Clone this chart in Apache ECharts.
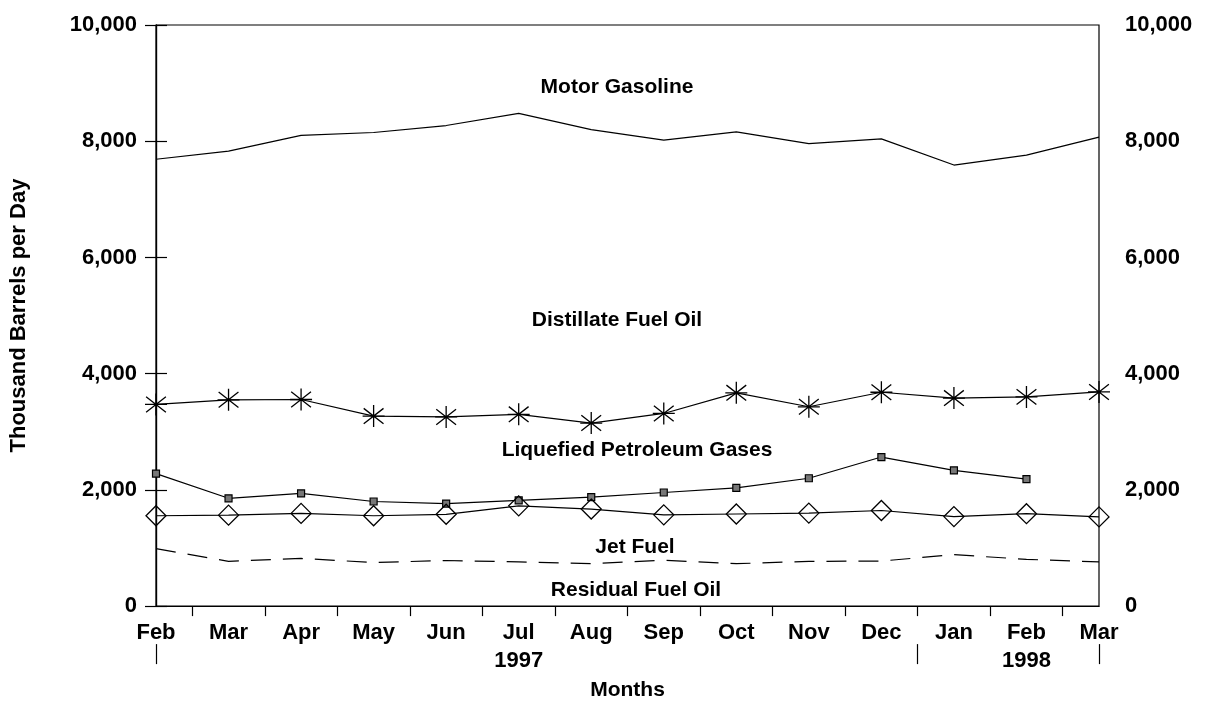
<!DOCTYPE html>
<html>
<head>
<meta charset="utf-8">
<script src="https://cdn.jsdelivr.net/npm/echarts@6/dist/echarts.min.js"></script>
<style>
html, body { margin: 0; padding: 0; background: #fff; }
#chart { width: 1212px; height: 706px; }
</style>
</head>
<body>
<div id="chart"></div>
<script>
// months Feb 1997 .. Mar 1998
const months = ['Feb', 'Mar', 'Apr', 'May', 'Jun', 'Jul\n1997', 'Aug', 'Sep', 'Oct', 'Nov', 'Dec', 'Jan', 'Feb\n1998', 'Mar']

// thousand barrels per day
const motorGasoline = [7690, 7830, 8100, 8150, 8270, 8480, 8200, 8020, 8160, 7960, 8040, 7590, 7760, 8070]
const distillateFuelOil = [3470, 3550, 3555, 3270, 3255, 3300, 3150, 3315, 3670, 3430, 3680, 3580, 3600, 3685]
const liquefiedGases = [2280, 1855, 1940, 1800, 1765, 1820, 1875, 1955, 2035, 2200, 2565, 2335, 2185, null]
const jetFuel = [1555, 1565, 1595, 1555, 1580, 1725, 1670, 1570, 1585, 1600, 1645, 1540, 1590, 1535]
const residualFuelOil = [990, 770, 820, 750, 785, 760, 730, 790, 730, 770, 775, 885, 805, 760]

// tick positions between months, and year separators
const midTicks = [0.5, 1.5, 2.5, 3.5, 4.5, 5.5, 6.5, 7.5, 8.5, 9.5, 10.5, 11.5, 12.5]
const yearTicks = [0, 10.5, 13]

const FONT = 'Liberation Sans'
const INK = '#000'

const asterisk = 'path://M10,0L10,20M0,10L20,10M1,3L19,17M1,17L19,3'

const fmt = v => v.toLocaleString('en-US')

const textStyle = { color: INK, fontFamily: FONT, fontSize: 22, fontWeight: 'bold' }

const yAxisBase = {
    type: 'value',
    min: 0,
    max: 10000,
    interval: 2000,
    splitLine: { show: false },
    axisLine: { show: true, lineStyle: { color: INK, width: 1.2 } },
    axisTick: { show: true, length: 11, lineStyle: { color: INK, width: 1.2 } },
    axisLabel: { ...textStyle, formatter: fmt },
}

const lineBase = {
    type: 'line',
    xAxisIndex: 0,
    yAxisIndex: 0,
    lineStyle: { color: INK, width: 1.2 },
    emphasis: { disabled: true },
}

const option = {
    animation: false,
    backgroundColor: '#fff',
    grid: {
        left: 155,
        right: 113,
        top: 25,
        bottom: 94,
        show: true,
        borderColor: INK,
        borderWidth: 1.2,
    },
    xAxis: [
        {
            type: 'category',
            data: months,
            boundaryGap: false,
            axisLine: { lineStyle: { color: INK, width: 1.2 } },
            axisTick: { show: false },
            axisLabel: { ...textStyle, margin: 13, lineHeight: 28, interval: 0 },
            name: 'Months',
            nameLocation: 'middle',
            nameGap: 72,
            nameTextStyle: { ...textStyle, fontSize: 21 },
        },
        {
            type: 'value',
            min: 0,
            max: 13,
            position: 'bottom',
            axisLine: { show: false },
            splitLine: { show: false },
            axisLabel: { show: false },
            axisTick: {
                show: true,
                customValues: midTicks,
                length: 10,
                lineStyle: { color: INK, width: 1.2 },
            },
        },
        {
            type: 'value',
            min: 0,
            max: 13,
            position: 'bottom',
            offset: 38,
            axisLine: { show: false },
            splitLine: { show: false },
            axisLabel: { show: false },
            axisTick: {
                show: true,
                customValues: yearTicks,
                length: 20,
                lineStyle: { color: INK, width: 1.2 },
            },
        },
    ],
    yAxis: [
        {
            ...yAxisBase,
            position: 'left',
            axisLabel: { ...yAxisBase.axisLabel, margin: 19 },
            name: 'Thousand Barrels per Day',
            nameLocation: 'middle',
            nameGap: 126,
            nameTextStyle: { ...textStyle, fontSize: 22 },
        },
        {
            ...yAxisBase,
            position: 'right',
            axisLabel: { ...yAxisBase.axisLabel, margin: 26 },
        },
    ],
    series: [
        {
            ...lineBase,
            name: 'Motor Gasoline',
            data: motorGasoline,
            showSymbol: false,
            symbol: 'none',
        },
        {
            ...lineBase,
            name: 'Distillate Fuel Oil',
            data: distillateFuelOil,
            symbol: asterisk,
            symbolSize: 22,
            itemStyle: { color: INK, borderColor: INK, borderWidth: 1.3 },
        },
        {
            ...lineBase,
            name: 'Liquefied Petroleum Gases',
            data: liquefiedGases,
            symbol: 'rect',
            symbolSize: 7,
            itemStyle: { color: '#777', borderColor: INK, borderWidth: 1.2 },
        },
        {
            ...lineBase,
            name: 'Jet Fuel',
            data: jetFuel,
            symbol: 'diamond',
            symbolSize: 20,
            itemStyle: { color: 'rgba(0,0,0,0)', borderColor: INK, borderWidth: 1.3 },
        },
        {
            ...lineBase,
            name: 'Residual Fuel Oil',
            data: residualFuelOil,
            symbol: 'none',
            lineStyle: { color: INK, width: 1.2, type: [20, 12] },
        },
    ],
    graphic: [
        ['Motor Gasoline', 617, 87],
        ['Distillate Fuel Oil', 617, 320],
        ['Liquefied Petroleum Gases', 637, 450],
        ['Jet Fuel', 635, 547],
        ['Residual Fuel Oil', 636, 590],
    ].map(([text, x, y]) => ({
        type: 'text',
        x,
        y,
        style: {
            text,
            fill: INK,
            font: `bold 21px "${FONT}"`,
            align: 'center',
            verticalAlign: 'middle',
        },
    })),
}

const myechart = echarts.init(document.getElementById('chart'), null, { renderer: 'canvas' })
myechart.setOption(option)
</script>
</body>
</html>
